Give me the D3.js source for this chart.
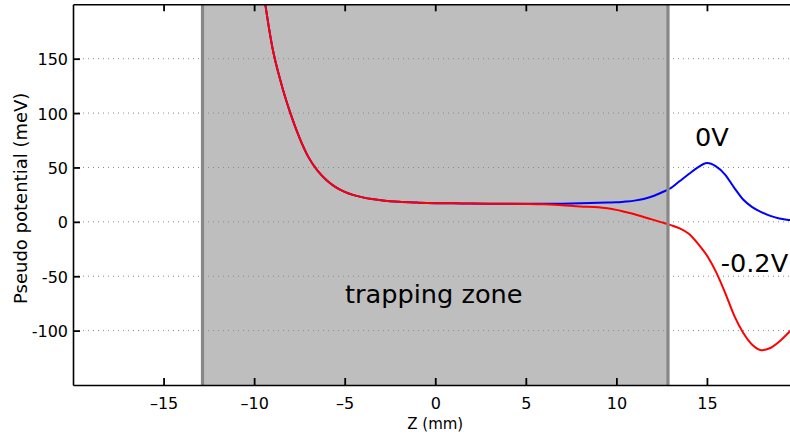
<!DOCTYPE html>
<html>
<head>
<meta charset="utf-8">
<script src="https://cdn.jsdelivr.net/npm/d3@7"></script>
<style>
  html, body { margin: 0; padding: 0; background: #fff; }
  svg { display: block; font-family: "DejaVu Sans", sans-serif; }
</style>
</head>
<body>
<svg id="chart" width="790" height="436"></svg>
<script>
// Axial position along the trap (mm)
const zPos = [-9.5, -9, -8.5, -8, -7.5, -7, -6.5, -6, -5.5, -5, -4.5, -4, -3.5, -3, -2.5, -2, -1, 0, 1, 2, 3, 4, 5,
  6, 7, 8, 9, 9.5, 10, 10.5, 11, 11.5, 12, 12.5, 13, 13.5, 14, 14.5, 15, 15.5, 16, 16.5, 17, 17.5, 18, 18.5, 19, 19.5, 20];

// Pseudo potential (meV) with end electrode at 0 V
const pot0V = [213, 161, 127, 100, 77.5, 59.5, 47, 38.3, 32, 27.6, 24.6, 22.5, 20.9, 19.8, 19, 18.4, 17.7, 17.2, 17, 16.8, 16.7, 16.6, 16.6,
  16.6, 16.7, 17, 17.5, 17.7, 17.9, 18.6, 19.5, 21, 23.5, 27, 31, 37.5, 44, 50, 54, 51, 43.5, 31.5, 20.5, 13.5, 9, 5.5, 3, 1.8, 1];

// Pseudo potential (meV) with end electrode at -0.2 V
const potM02V = [213, 161, 127, 100, 77.5, 59.5, 47, 38.3, 32, 27.6, 24.6, 22.5, 20.9, 19.8, 19, 18.4, 17.7, 17.2, 17, 16.8, 16.7, 16.6, 16.5,
  16.2, 15.3, 14.2, 13.5, 12.5, 11, 9, 7, 4.5, 2, -0.5, -3, -6, -11, -20, -31, -46, -65, -86, -102, -113, -118, -116, -110, -102, -93];

// Trapping zone bounds (mm)
const zoneBounds = [-12.85, 12.85];

const xTicks = [-15, -10, -5, 0, 5, 10, 15];
const yTicks = [-100, -50, 0, 50, 100, 150];

const svg = d3.select("#chart");
const plotLeft = 73, plotRight = 797.5, plotTop = 4.3, plotBottom = 385;

const x = d3.scaleLinear().domain([-20, 20]).range([plotLeft, plotRight]);
const y = d3.scaleLinear().domain([-150, 200]).range([plotBottom, plotTop]);

svg.append("defs").append("clipPath").attr("id", "plotClip")
  .append("rect").attr("x", plotLeft).attr("y", plotTop)
  .attr("width", plotRight - plotLeft).attr("height", plotBottom - plotTop);

const plot = svg.append("g").attr("clip-path", "url(#plotClip)");

// shaded trapping region
plot.append("rect")
  .attr("x", x(zoneBounds[0])).attr("y", plotTop)
  .attr("width", x(zoneBounds[1]) - x(zoneBounds[0]))
  .attr("height", plotBottom - plotTop)
  .attr("fill", "#bebebe");

// dotted horizontal grid
plot.selectAll("line.grid").data(yTicks).join("line")
  .attr("class", "grid")
  .attr("x1", plotLeft).attr("x2", plotRight)
  .attr("y1", d => y(d)).attr("y2", d => y(d))
  .attr("stroke", "#8a8a8a").attr("stroke-width", 1)
  .attr("stroke-dasharray", "1,4");

// potential curves
const line = d3.line().curve(d3.curveMonotoneX).x(d => x(d[0])).y(d => y(d[1]));
plot.append("path")
  .datum(zPos.map((z, i) => [z, pot0V[i]]))
  .attr("d", line).attr("fill", "none")
  .attr("stroke", "#0000ff").attr("stroke-width", 2).attr("stroke-linejoin", "round");
plot.append("path")
  .datum(zPos.map((z, i) => [z, potM02V[i]]))
  .attr("d", line).attr("fill", "none")
  .attr("stroke", "#ff0000").attr("stroke-width", 2).attr("stroke-linejoin", "round");

// trapping zone borders
plot.selectAll("line.zone").data(zoneBounds).join("line")
  .attr("class", "zone")
  .attr("x1", d => x(d)).attr("x2", d => x(d))
  .attr("y1", plotTop).attr("y2", plotBottom)
  .attr("stroke", "#878787").attr("stroke-width", 3.2);

// axes
const fmtX = d => d < 0 ? "\u2013" + Math.abs(d) : String(d);
const gx = svg.append("g").attr("transform", `translate(0,${plotBottom})`)
  .call(d3.axisBottom(x).tickValues(xTicks).tickFormat(fmtX).tickSizeInner(-7).tickSizeOuter(0).tickPadding(13));
const gxTop = svg.append("g").attr("transform", `translate(0,${plotTop})`)
  .call(d3.axisTop(x).tickValues(xTicks).tickFormat("").tickSizeInner(-7).tickSizeOuter(0));
const gy = svg.append("g").attr("transform", `translate(${plotLeft},0)`)
  .call(d3.axisLeft(y).tickValues(yTicks).tickFormat(d => String(d)).tickSizeInner(-7).tickSizeOuter(0).tickPadding(5));

[gx, gxTop, gy].forEach(g => {
  g.select(".domain").attr("stroke", "#000").attr("stroke-width", 1.6);
  g.selectAll(".tick line").attr("stroke", "#000").attr("stroke-width", 1.8);
  g.selectAll(".tick text").attr("fill", "#000").style("font-size", "16px").style("font-family", "DejaVu Sans");
});
gy.selectAll(".tick text").attr("dy", "0.38em");

// axis titles
svg.append("text")
  .attr("x", x(0)).attr("y", 429.3)
  .attr("text-anchor", "middle")
  .style("font-size", "15px").attr("fill", "#000")
  .text("Z (mm)");
svg.append("text")
  .attr("transform", "translate(26.5,198.3) rotate(-90)")
  .attr("text-anchor", "middle")
  .style("font-size", "18px").attr("fill", "#000")
  .text("Pseudo potential (meV)");

// annotations
svg.append("text").attr("x", 345).attr("y", 303.3)
  .style("font-size", "25.6px").attr("fill", "#000").text("trapping zone");
svg.append("text").attr("x", 695).attr("y", 146)
  .style("font-size", "25.6px").attr("fill", "#000").text("0V");
svg.append("text").attr("x", 720.7).attr("y", 271.7)
  .style("font-size", "25.6px").attr("fill", "#000").text("-0.2V");
</script>
</body>
</html>
